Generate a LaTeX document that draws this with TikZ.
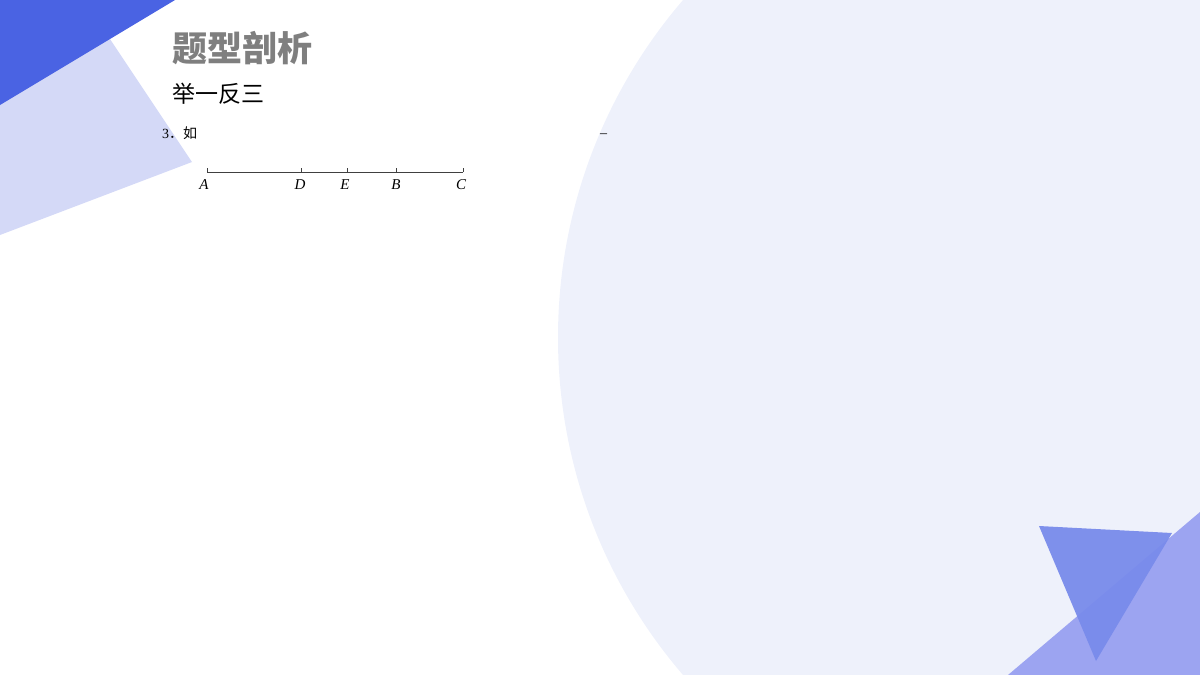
\documentclass[tikz,border=0pt]{standalone}
\usepackage{fontspec}
\setmainfont{Liberation Serif}
\newfontfamily\cjk{Noto Sans CJK SC}
\usetikzlibrary{positioning}
\definecolor{deepblue}{HTML}{4A63E3}
\definecolor{lavender}{HTML}{D4D9F7}
\definecolor{circlebg}{HTML}{EEF1FB}
\definecolor{softblue}{HTML}{9CA4F1}
\definecolor{midblue}{HTML}{798BEB}
\definecolor{titlegray}{HTML}{7F7F7F}

\begin{document}
\begin{tikzpicture}[
  x=1pt, y=-1pt,
  heading/.style={font=\cjk\bfseries\fontsize{35}{40}\selectfont, text=titlegray, inner sep=0pt, anchor=base west},
  subheading/.style={font=\cjk\fontsize{23}{27}\selectfont, text=black, inner sep=0pt, anchor=base west},
  question/.style={font=\fontsize{14}{16}\selectfont, inner sep=0pt, anchor=base west},
  ptlabel/.style={font=\itshape\fontsize{15}{17}\selectfont, inner sep=0pt},
  segment/.style={line width=0.8pt, black!75}
]
\useasboundingbox (0,0) rectangle (1200,675);
\clip (0,0) rectangle (1200,675);

% background shapes
\fill[circlebg] (1076,337.5) circle (518);
\fill[lavender] (84,0) -- (192,162) -- (0,235) -- (0,0) -- cycle;
\fill[deepblue] (0,0) -- (175,0) -- (0,105) -- cycle;
\fill[softblue] (1008,675) -- (1200,512) -- (1200,675) -- cycle;
\fill[midblue, opacity=0.95] (1039,526) -- (1172,533) -- (1096,661) -- cycle;

% titles
\node[heading] (title) at (172,61) {题型剖析};
\node[subheading] (subtitle) at (172,102) {举一反三};
\node[question] (q3) at (162,138) {3{\cjk ．如}};
\node[question] (dash) at (600,137) {–};

% segment A--C
\coordinate (A) at (207,172);
\coordinate (D) at (301,172);
\coordinate (E) at (347,172);
\coordinate (B) at (396,172);
\coordinate (C) at (463,172);
\draw[segment] (A) -- (C);
\foreach \p in {A,D,E,B,C}
  \draw[segment] (\p) -- ++(0,-4);
\node[ptlabel, below=7pt of A, xshift=-3pt] (labA) {A};
\node[ptlabel, below=7pt of D, xshift=-1pt] (labD) {D};
\node[ptlabel, below=7pt of E, xshift=-2pt] (labE) {E};
\node[ptlabel, below=7pt of B] (labB) {B};
\node[ptlabel, below=7pt of C, xshift=-2pt] (labC) {C};
\end{tikzpicture}
\end{document}
